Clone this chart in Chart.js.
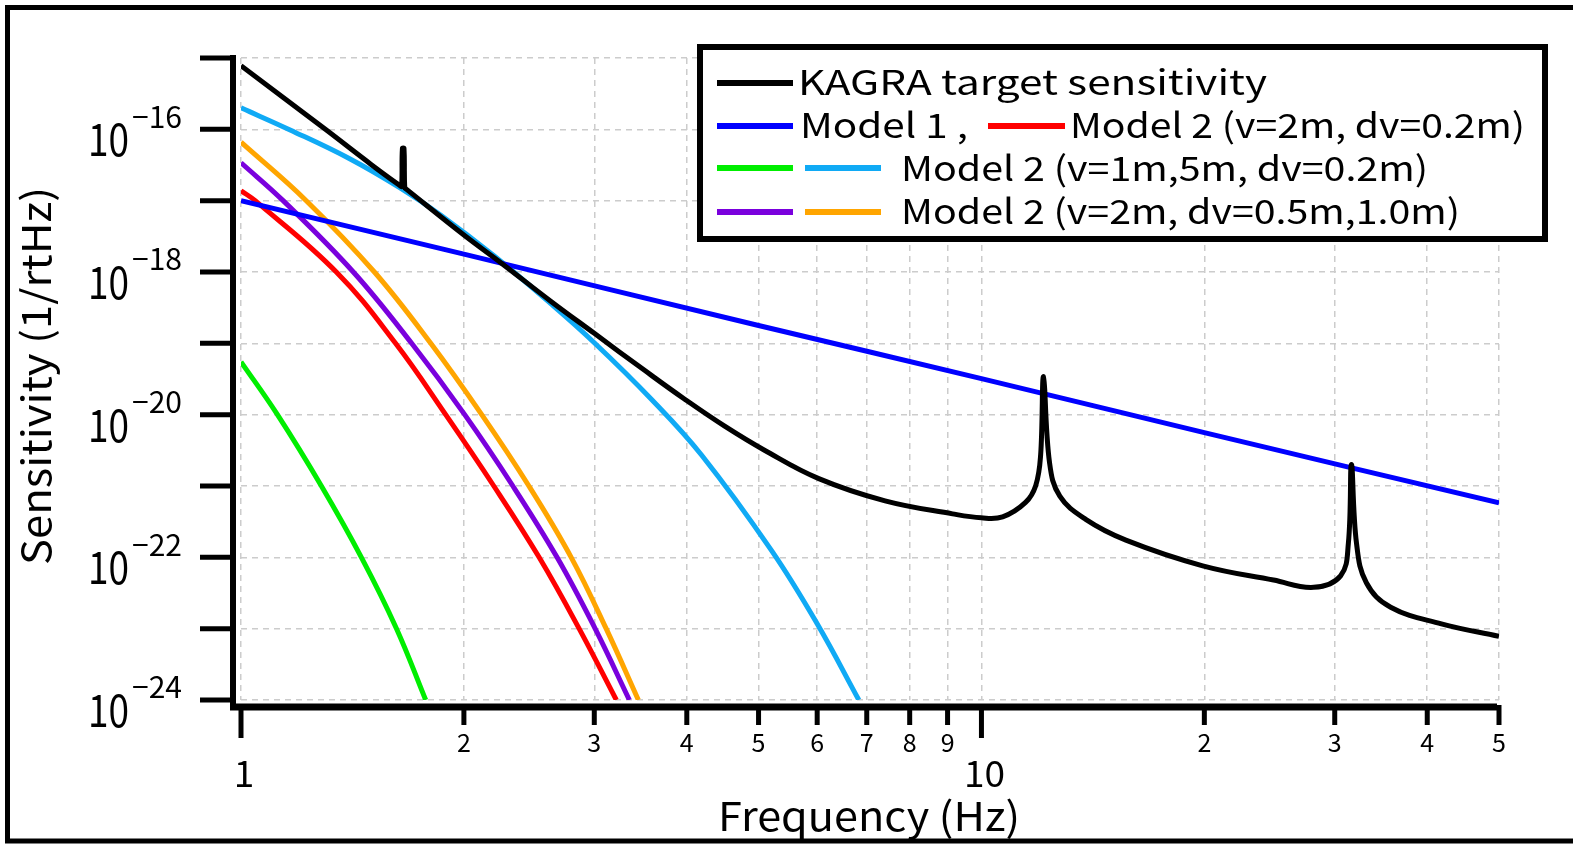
<!DOCTYPE html>
<html>
<head>
<meta charset="utf-8">
<script src="https://cdn.jsdelivr.net/npm/chart.js@4"></script>
<style>
  html, body { margin: 0; padding: 0; background: #fff; }
  #wrap { width: 1573px; height: 844px; }
</style>
</head>
<body>
<div id="wrap"><canvas id="sens" width="1573" height="844"></canvas></div>
<script>
// frequency (Hz) / sensitivity (1/rtHz)
const kagraF = [1, 1.3, 1.5, 1.64, 1.648, 1.652, 1.66, 1.664, 1.672, 2, 2.25, 2.62, 3, 3.5, 3.97, 4.5, 5.1, 6.03, 7.41, 9.14, 10, 10.68, 11.47, 11.84, 12.02, 12.13, 12.36, 12.76, 13.83, 15.67, 19.9, 24.8, 28.1, 30.55, 31.3, 31.6, 32.1, 33.1, 35.7, 41.8, 50]
const kagraS = [7.8e-16, 1.0e-16, 3.2e-17, 1.62e-17, 1.58e-17, 5.4e-17, 5.4e-17, 1.51e-17, 1.45e-17, 3.3e-18, 1.32e-18, 3.9e-19, 1.38e-19, 4.25e-20, 1.66e-20, 6.9e-21, 3.15e-21, 1.27e-21, 6.2e-22, 4.07e-22, 3.58e-22, 3.7e-22, 5.9e-22, 1.02e-21, 2.7e-21, 3.4e-20, 2.1e-21, 7.2e-22, 3.4e-22, 1.74e-22, 7.6e-23, 4.8e-23, 3.8e-23, 5.5e-23, 1.58e-22, 2.0e-21, 1.58e-22, 4.4e-23, 2.0e-23, 1.17e-23, 7.8e-24]

const model1F = [1, 2, 5, 10, 20, 50]
const model1S = [1.0e-17, 1.78e-18, 1.78e-19, 3.2e-20, 5.6e-21, 5.8e-22]

const v2dv02F = [1, 1.045, 1.345, 1.617, 1.89, 2.195, 2.527, 2.862, 3.213]
const v2dv02S = [1.38e-17, 1.0e-17, 1.0e-18, 1.0e-19, 1.0e-20, 1.0e-21, 1.0e-22, 1.0e-23, 1.0e-24]

const v1F = [1, 1.12, 1.284, 1.454, 1.622, 1.776]
const v1S = [5.5e-20, 1.0e-20, 1.0e-21, 1.0e-22, 1.0e-23, 1.0e-24]

const v5F = [1, 1.165, 1.4, 1.64, 1.86, 2.2, 2.62, 3.0, 3.58, 4.19, 5.21, 6.0, 6.83]
const v5S = [2.0e-16, 9.8e-17, 3.9e-17, 1.51e-17, 6.3e-18, 1.66e-18, 3.6e-19, 1.02e-19, 1.66e-20, 2.7e-21, 1.23e-22, 1.17e-23, 1.0e-24]

const dv05F = [1, 1.14, 1.418, 1.70, 2.005, 2.329, 2.672, 3.008, 3.346]
const dv05S = [3.4e-17, 1.0e-17, 1.0e-18, 1.0e-19, 1.0e-20, 1.0e-21, 1.0e-22, 1.0e-23, 1.0e-24]

const dv10F = [1, 1.225, 1.514, 1.804, 2.114, 2.448, 2.792, 3.113, 3.441]
const dv10S = [6.6e-17, 1.0e-17, 1.0e-18, 1.0e-19, 1.0e-20, 1.0e-21, 1.0e-22, 1.0e-23, 1.0e-24]

const xTickVals = [1, 2, 3, 4, 5, 6, 7, 8, 9, 10, 20, 30, 40, 50]
const xMajorVals = [1, 10]
const yTickVals = [1e-24, 1e-23, 1e-22, 1e-21, 1e-20, 1e-19, 1e-18, 1e-17, 1e-16, 1e-15]
const yLabelExps = [-16, -18, -20, -22, -24]

const FONT = '"Noto Sans CJK JP", "Noto Sans", sans-serif'

function pts(fs, ss) {
    return fs.map(function (f, i) { return { x: f, y: ss[i] } })
}

function line(fs, ss, color) {
    return {
        data: pts(fs, ss),
        borderColor: color,
        borderWidth: 5,
        pointRadius: 0,
        fill: false,
        tension: 0.4
    }
}

// text with optional horizontal squeeze to a target width
function txt(ctx, s, x, y, size, w, align) {
    ctx.font = size + 'px ' + FONT
    const m = ctx.measureText(s).width
    const k = w ? w / m : 1
    ctx.save()
    ctx.translate(x, y)
    ctx.scale(k, 1)
    ctx.textAlign = align || 'left'
    ctx.textBaseline = 'middle'
    ctx.fillStyle = '#000'
    ctx.fillText(s, 0, 0)
    ctx.restore()
}

const background = {
    id: 'background',
    beforeDraw: function (chart) {
        const ctx = chart.ctx
        ctx.save()
        ctx.fillStyle = '#fff'
        ctx.fillRect(0, 0, chart.width, chart.height)
        ctx.restore()
    }
}

const decorations = {
    id: 'decorations',
    afterDraw: function (chart) {
        const ctx = chart.ctx
        const xs = chart.scales.x
        const ys = chart.scales.y
        ctx.save()
        ctx.strokeStyle = '#000'
        ctx.lineCap = 'butt'

        // outer frame
        ctx.lineWidth = 5
        ctx.strokeRect(7.5, 7.5, 1580, 833.5)

        // axes
        ctx.lineWidth = 6
        ctx.beginPath()
        ctx.moveTo(233, 55)
        ctx.lineTo(233, 710)
        ctx.stroke()
        ctx.lineWidth = 7
        ctx.beginPath()
        ctx.moveTo(230, 707)
        ctx.lineTo(1497, 707)
        ctx.stroke()

        // y ticks
        ctx.lineWidth = 5
        yTickVals.forEach(function (v) {
            const py = ys.getPixelForValue(v)
            ctx.beginPath()
            ctx.moveTo(200, py)
            ctx.lineTo(233, py)
            ctx.stroke()
        })
        yLabelExps.forEach(function (e) {
            const py = ys.getPixelForValue(Math.pow(10, e))
            txt(ctx, '10', 129, py + 10, 45, 41, 'right')
            txt(ctx, '\u2212' + (-e), 132, py - 13, 30, 50, 'left')
        })

        // x ticks
        xTickVals.forEach(function (v) {
            const px = xs.getPixelForValue(v)
            const major = xMajorVals.indexOf(v) >= 0
            ctx.beginPath()
            ctx.moveTo(px, 705)
            ctx.lineTo(px, major ? 738 : 725)
            ctx.stroke()
            if (major) {
                txt(ctx, String(v), px + 3, 773, 37, null, 'center')
            } else {
                txt(ctx, String(v >= 10 ? v / 10 : v), px, 742, 25, null, 'center')
            }
        })

        // axis titles
        txt(ctx, 'Frequency (Hz)', 869, 816, 40, 302, 'center')
        ctx.save()
        ctx.translate(36, 376)
        ctx.rotate(-Math.PI / 2)
        txt(ctx, 'Sensitivity (1/rtHz)', 0, 0, 40, 378, 'center')
        ctx.restore()

        // legend
        ctx.fillStyle = '#fff'
        ctx.fillRect(700, 47, 845, 192)
        ctx.lineWidth = 6
        ctx.strokeRect(700, 47, 845, 192)

        const swatch = function (x1, x2, y, color) {
            ctx.strokeStyle = color
            ctx.lineWidth = 6
            ctx.beginPath()
            ctx.moveTo(x1, y)
            ctx.lineTo(x2, y)
            ctx.stroke()
        }
        swatch(717, 793, 83, '#000000')
        txt(ctx, 'KAGRA target sensitivity', 798, 82, 34, 469, 'left')
        swatch(717, 793, 126, '#0000ff')
        txt(ctx, 'Model 1 ,', 800, 125, 34, 168, 'left')
        swatch(988, 1065, 126, '#ff0000')
        txt(ctx, 'Model 2 (v=2m, dv=0.2m)', 1070, 125, 34, 455, 'left')
        swatch(717, 793, 168, '#00ee00')
        swatch(805, 881, 168, '#10aaf5')
        txt(ctx, 'Model 2 (v=1m,5m, dv=0.2m)', 901, 168, 34, 527, 'left')
        swatch(717, 793, 212, '#7a00dd')
        swatch(805, 881, 212, '#ffa500')
        txt(ctx, 'Model 2 (v=2m, dv=0.5m,1.0m)', 901, 211, 34, 559, 'left')

        ctx.restore()
    }
}

document.addEventListener('DOMContentLoaded', function () {
    const data = {
        datasets: [
            line(kagraF, kagraS, '#000000'),
            line(model1F, model1S, '#0000ff'),
            line(v5F, v5S, '#10aaf5'),
            line(v2dv02F, v2dv02S, '#ff0000'),
            line(dv05F, dv05S, '#7a00dd'),
            line(dv10F, dv10S, '#ffa500'),
            line(v1F, v1S, '#00ee00')
        ]
    }
    const gridOpts = {
        color: '#cccccc',
        lineWidth: 1.5,
        drawTicks: false
    }
    const config = {
        type: 'line',
        data: data,
        options: {
            responsive: false,
            animation: false,
            devicePixelRatio: 1,
            layout: {
                padding: { left: 241, top: 58, right: 74, bottom: 144 }
            },
            plugins: {
                legend: { display: false },
                tooltip: { enabled: false }
            },
            scales: {
                x: {
                    type: 'logarithmic',
                    min: 1,
                    max: 50,
                    afterBuildTicks: function (scale) {
                        scale.ticks = xTickVals.map(function (v) { return { value: v } })
                    },
                    ticks: { display: false },
                    grid: gridOpts,
                    border: { display: false, dash: [6, 5] }
                },
                y: {
                    type: 'logarithmic',
                    min: 1e-24,
                    max: 1e-15,
                    afterBuildTicks: function (scale) {
                        scale.ticks = yTickVals.map(function (v) { return { value: v } })
                    },
                    ticks: { display: false },
                    grid: gridOpts,
                    border: { display: false, dash: [6, 5] }
                }
            }
        },
        plugins: [background, decorations]
    }
    new Chart(document.getElementById('sens'), config)
})
</script>
</body>
</html>
